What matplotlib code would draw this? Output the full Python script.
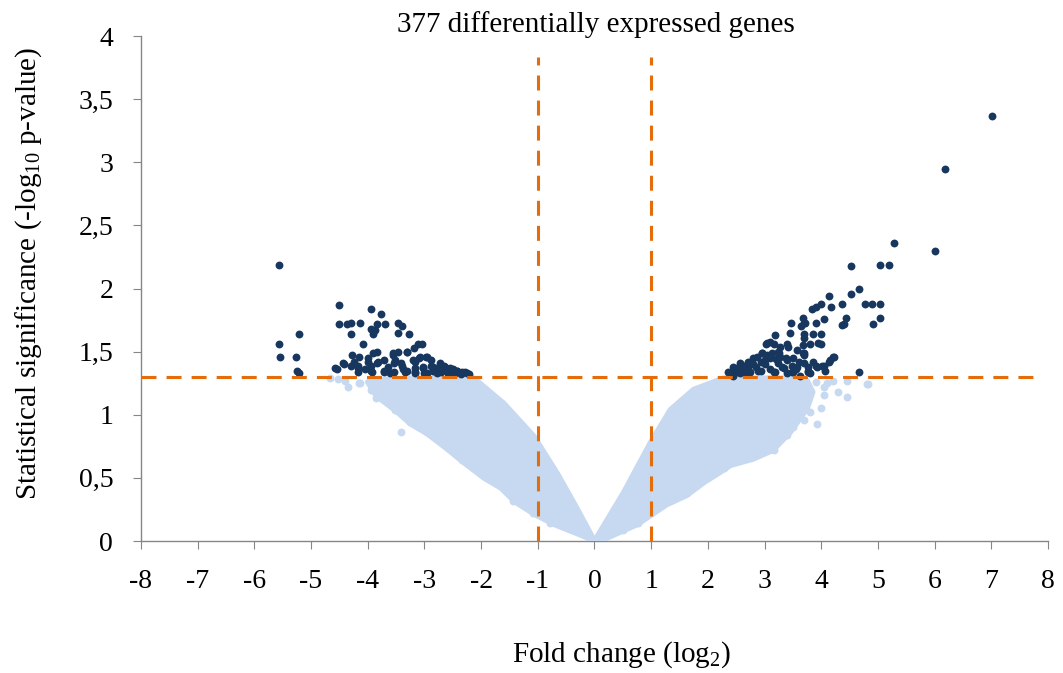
import matplotlib
matplotlib.use("Agg")
import matplotlib.pyplot as plt
from matplotlib.ticker import FuncFormatter

plt.rcParams['font.family'] = ['Liberation Serif', 'DejaVu Serif']
plt.rcParams['mathtext.fontset'] = 'custom'
plt.rcParams['mathtext.rm'] = 'Liberation Serif'
plt.rcParams['mathtext.it'] = 'Liberation Serif:italic'

# ---------------- data ----------------
title_text = "377 differentially expressed genes"
x_ticks = list(range(-8, 9))
y_ticks = [0, 0.5, 1, 1.5, 2, 2.5, 3, 3.5, 4]
p_threshold = 1.3          # -log10(0.05)
fc_threshold = 1.0

# dense core of non-significant genes (outline of the cloud)
left_cloud_x = [0, -0.30, -0.65, -1.07, -1.60, -2.13, -2.6, -3.2, -3.7, -4.0, -3.85, -3.5, -3.25, -2.95,
                -2.6, -2.3, -1.95, -1.65, -1.4, -1.05, -0.7, -0.2]
left_cloud_y = [0, 0.25, 0.53, 0.83, 1.09, 1.29, 1.29, 1.29, 1.28, 1.26, 1.15, 1.03, 0.93, 0.85,
                0.73, 0.62, 0.50, 0.42, 0.31, 0.21, 0.13, 0.04]
right_cloud_x = [0, 0.51, 0.99, 1.34, 1.75, 2.28, 2.9, 3.4, 3.75, 3.85, 3.75, 3.45, 3.15, 2.8, 2.4,
                 2.2, 1.95, 1.62, 1.28, 0.98, 0.75, 0.5, 0.2]
right_cloud_y = [0, 0.38, 0.78, 1.04, 1.20, 1.29, 1.29, 1.29, 1.27, 1.18, 1.05, 0.86, 0.72, 0.65, 0.60,
                 0.54, 0.47, 0.36, 0.29, 0.20, 0.13, 0.08, 0.02]

# scattered non-significant genes at the cloud edges
light_x = [-4.66, -4.53, -4.34, -4.16, -4.13, -3.86, -3.69, -3.51, -3.42, -3.25, -2.95, -2.77, -2.57,
           -2.33, -2.19, -1.92, -1.62, -1.43, -1.08, -0.78, -3.80, -3.60, -3.10, -2.45, -4.40, -3.95,
           4.11, 4.29, 4.46, 4.46, 4.81, 4.04, 3.99, 3.81, 3.69, 3.93, 3.51, 3.40, 3.16, 2.80,
           2.57, 2.40, 2.28, 1.99, 1.69, 1.64, 1.29, 0.99, 0.76, 0.51, 4.04, 4.83, 3.75, 3.55, 3.00,
           4.20, 3.90, 3.30]
light_y = [1.29, 1.28, 1.22, 1.25, 1.25, 1.13, 1.17, 1.04, 0.86, 0.94, 0.86, 0.82, 0.74,
           0.64, 0.64, 0.51, 0.44, 0.32, 0.22, 0.14, 1.22, 1.10, 0.90, 0.70, 1.27, 1.20,
           1.25, 1.18, 1.27, 1.14, 1.24, 1.16, 1.05, 1.02, 0.96, 0.93, 0.90, 0.84, 0.72, 0.67,
           0.67, 0.63, 0.58, 0.50, 0.44, 0.38, 0.32, 0.22, 0.14, 0.09, 1.22, 1.24, 1.10, 1.00, 0.80,
           1.27, 1.26, 1.00]

# significant genes, down-regulated
down_x = [-5.57, -5.57, -5.54, -5.22, -5.26, -5.24, -5.22,
          -4.55, -4.50, -4.50, -4.36, -4.29, -4.30, -4.13, -4.09,
          -3.95, -3.77, -3.84, -3.70, -3.95, -3.88, -3.90,
          -3.46, -3.39, -3.47, -3.28, -3.84, -4.27, -4.41,
          -4.16, -4.00, -4.18, -4.18, -3.95, -3.81, -3.72,
          -3.56, -3.47, -3.30, -3.54, -3.39, -3.19, -3.12, -3.05,
          -3.21, -3.10, -2.95, -3.16, -3.02, -2.89, -3.16, -2.95,
          -2.77, -2.66, -2.54, -2.42, -2.28, -2.22, -2.77, -2.59,
          -3.65, -3.93, -4.25, -4.05, -3.60, -3.35, -2.85, -2.70, -2.48, -2.36,
          -4.43, -4.57, -4.30, -4.00, -3.90, -3.83, -3.72, -3.56, -3.51, -3.42, -3.30,
          -3.95, -3.72, -3.54, -3.30, -3.16, -3.07, -2.98, -2.89, -3.02, -2.84, -2.72,
          -2.63, -2.54, -2.42, -2.33, -2.24, -3.16, -2.77, -2.59, -4.18, -3.38, -3.00, -2.50]
down_y = [2.19, 1.56, 1.46, 1.64, 1.46, 1.35, 1.33,
          1.36, 1.87, 1.72, 1.72, 1.73, 1.64, 1.73, 1.56,
          1.84, 1.80, 1.72, 1.72, 1.68, 1.67, 1.64,
          1.73, 1.70, 1.65, 1.64, 1.50, 1.47, 1.40,
          1.46, 1.45, 1.39, 1.34, 1.39, 1.42, 1.34,
          1.47, 1.50, 1.50, 1.41, 1.39, 1.53, 1.56, 1.56,
          1.43, 1.45, 1.46, 1.37, 1.38, 1.39, 1.33, 1.33,
          1.37, 1.39, 1.35, 1.35, 1.34, 1.32, 1.33, 1.33,
          1.38, 1.34, 1.42, 1.36, 1.33, 1.34, 1.35, 1.34, 1.32, 1.32,
          1.41, 1.37, 1.39, 1.42, 1.49, 1.41, 1.43, 1.49, 1.43, 1.41, 1.50,
          1.35, 1.35, 1.34, 1.35, 1.42, 1.46, 1.46, 1.43, 1.37, 1.38, 1.41,
          1.38, 1.37, 1.35, 1.34, 1.33, 1.34, 1.34, 1.33, 1.37, 1.36, 1.33, 1.36]

# significant genes, up-regulated
up_x = [7.02, 6.19, 5.29, 6.01, 4.53, 5.03, 5.19, 4.67, 4.53, 4.13, 4.18, 4.37, 4.78, 4.89, 5.03,
        5.03, 4.92, 4.43, 4.41, 3.99, 3.90, 3.84, 3.67, 4.04, 3.90, 3.69, 3.46, 3.65, 3.86, 3.99,
        3.44, 3.69, 3.19, 3.10, 3.03, 3.17, 3.40, 3.67, 3.81, 4.00, 3.69, 4.22, 4.16, 4.66,
        2.35, 2.52, 2.63, 2.75, 2.87, 2.96, 3.05, 3.14, 3.23, 3.28, 3.40, 3.51, 3.58, 3.69, 3.76,
        3.86, 3.93, 4.04, 4.07, 3.81, 3.63, 3.40, 3.16, 2.93, 2.75, 2.57, 2.45, 2.70, 2.93,
        3.28, 3.58, 3.00, 3.10, 3.30, 2.65, 2.85, 3.50, 2.40, 3.20, 3.70,
        2.45, 2.57, 2.70, 2.79, 2.96, 3.05, 3.10, 3.25, 3.23, 3.37, 3.42, 3.49, 3.60, 3.67, 3.69,
        3.95, 3.77, 3.90, 4.02, 4.20, 4.13, 3.76, 3.49, 3.19, 2.89, 2.66, 2.49, 4.37, 3.72,
        2.60, 2.80, 3.00, 3.35, 3.55, 2.40, 2.55]
up_y = [3.37, 2.95, 2.36, 2.30, 2.18, 2.19, 2.19, 2.00, 1.96, 1.94, 1.85, 1.88, 1.88, 1.88, 1.88,
        1.77, 1.72, 1.77, 1.72, 1.88, 1.85, 1.84, 1.77, 1.76, 1.73, 1.73, 1.73, 1.70, 1.64, 1.64,
        1.65, 1.64, 1.63, 1.58, 1.56, 1.56, 1.56, 1.55, 1.56, 1.56, 1.49, 1.46, 1.43, 1.34,
        1.34, 1.37, 1.39, 1.41, 1.46, 1.49, 1.47, 1.49, 1.50, 1.46, 1.43, 1.45, 1.38, 1.41, 1.35,
        1.42, 1.38, 1.39, 1.35, 1.33, 1.31, 1.33, 1.34, 1.35, 1.34, 1.33, 1.31, 1.38, 1.42,
        1.54, 1.51, 1.40, 1.36, 1.38, 1.33, 1.38, 1.34, 1.32, 1.44, 1.47,
        1.38, 1.41, 1.42, 1.45, 1.49, 1.57, 1.45, 1.49, 1.41, 1.45, 1.54, 1.39, 1.42, 1.49, 1.61,
        1.57, 1.38, 1.39, 1.39, 1.46, 1.42, 1.34, 1.34, 1.34, 1.35, 1.35, 1.34, 1.71, 1.73,
        1.37, 1.40, 1.43, 1.37, 1.36, 1.33, 1.36]

# ---------------- style ----------------
light = "#C6D9F0"
dark = "#17375E"
orange = "#E46C0A"
axis_grey = "#868686"

fig = plt.figure(figsize=(10.63, 6.73), dpi=100)
ax = fig.add_axes([0.1326, 0.1961, 0.8533, 0.7504])

ax.fill(left_cloud_x, left_cloud_y, color=light, lw=4, joinstyle="round", zorder=1)
ax.fill(right_cloud_x, right_cloud_y, color=light, lw=4, joinstyle="round", zorder=1)
ax.scatter(light_x, light_y, s=32, color=light, linewidths=0, zorder=1)
ax.scatter(down_x, down_y, s=32, color=dark, linewidths=0, zorder=2)
ax.scatter(up_x, up_y, s=32, color=dark, linewidths=0, zorder=2)

dash = (0, (4.9, 3.3))
ax.plot([-8, 7.78], [p_threshold, p_threshold], color=orange, lw=2.2, ls=dash, zorder=3)
ax.plot([-fc_threshold, -fc_threshold], [0, 3.83], color=orange, lw=2.2, ls=dash, zorder=3)
ax.plot([fc_threshold, fc_threshold], [0, 3.83], color=orange, lw=2.2, ls=dash, zorder=3)

ax.set_xlim(-8, 8)
ax.set_ylim(0, 4)
ax.set_xticks(x_ticks)
ax.set_yticks(y_ticks)
ax.xaxis.set_major_formatter(FuncFormatter(lambda v, p: f"{v:g}"))
ax.yaxis.set_major_formatter(FuncFormatter(lambda v, p: f"{v:g}".replace(".", ",")))

for s in ["top", "right"]:
    ax.spines[s].set_visible(False)
for s in ["left", "bottom"]:
    ax.spines[s].set_color(axis_grey)
    ax.spines[s].set_linewidth(1.0)
    ax.spines[s].set_zorder(0.5)
ax.tick_params(axis="x", direction="out", length=6, color=axis_grey, labelsize=20, pad=14)
ax.tick_params(axis="y", direction="out", length=6, color=axis_grey, labelsize=20, pad=14)

ax.set_xlabel(r"Fold change (log$_2$)", fontsize=21)
ax.xaxis.set_label_coords(0.53, -0.226)
ax.xaxis.label.set_va("center")
ax.set_ylabel(r"Statistical significance (-log$_{10}$ p-value)", fontsize=21)
ax.yaxis.set_label_coords(-0.124, 0.53)
ax.yaxis.label.set_va("center")

ax.text(0.5015, 1.022, title_text, transform=ax.transAxes, ha="center", va="center", fontsize=21)

fig.savefig("out.png", dpi=100)
